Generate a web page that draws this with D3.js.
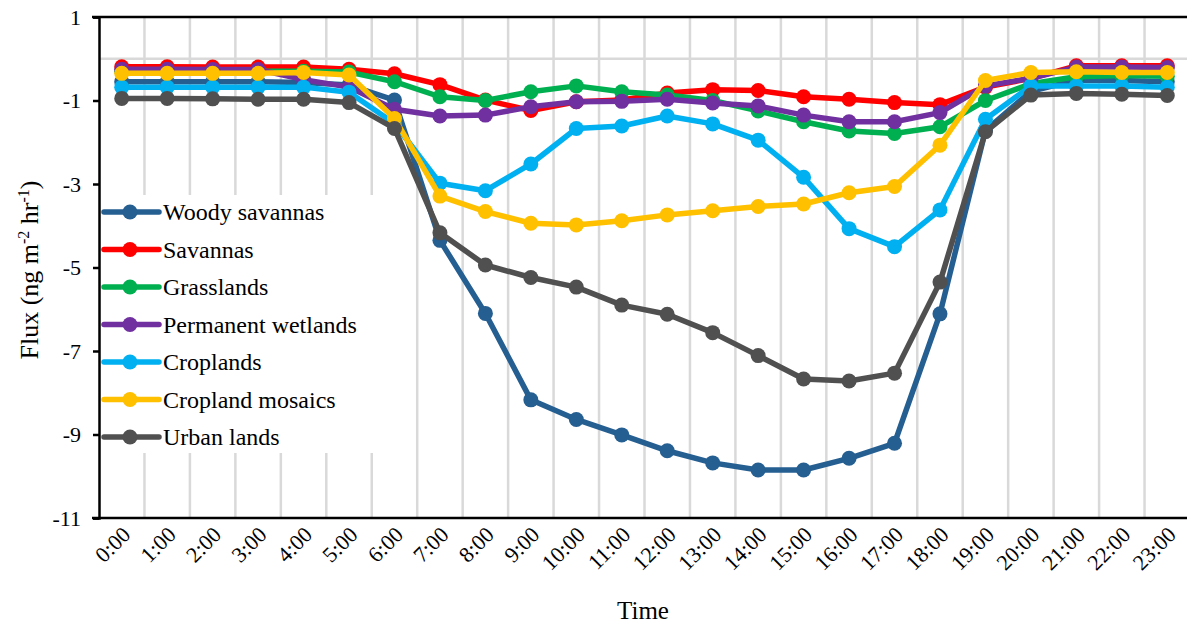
<!DOCTYPE html>
<html>
<head>
<meta charset="utf-8">
<script src="https://cdn.jsdelivr.net/npm/d3@7"></script>
<style>
  html, body { margin: 0; padding: 0; background: #fff; }
  svg { display: block; }
  svg text { font-family: "Liberation Serif", "Times New Roman", serif; fill: #000; }
</style>
</head>
<body>
<svg id="chart" width="1187" height="628"></svg>
<script>
// Hourly flux by land cover type (ng m-2 hr-1)
const hours = ["0:00","1:00","2:00","3:00","4:00","5:00","6:00","7:00","8:00","9:00","10:00","11:00",
               "12:00","13:00","14:00","15:00","16:00","17:00","18:00","19:00","20:00","21:00","22:00","23:00"];

const woodySavannas     = [-0.55,-0.55,-0.55,-0.55,-0.57,-0.63,-0.99,-4.35,-6.1,-8.17,-8.64,-9.01,-9.39,-9.68,-9.85,-9.85,-9.57,-9.21,-6.11,-1.72,-0.78,-0.51,-0.52,-0.55];
const savannas          = [-0.19,-0.19,-0.2,-0.2,-0.2,-0.25,-0.36,-0.62,-0.99,-1.24,-1.03,-0.99,-0.82,-0.74,-0.76,-0.91,-0.97,-1.05,-1.1,-0.68,-0.47,-0.17,-0.17,-0.17];
const grasslands        = [-0.3,-0.3,-0.3,-0.3,-0.3,-0.32,-0.55,-0.91,-1.0,-0.79,-0.65,-0.79,-0.87,-1.0,-1.25,-1.51,-1.73,-1.79,-1.63,-1.0,-0.6,-0.43,-0.4,-0.42];
const permanentWetlands = [-0.25,-0.25,-0.26,-0.26,-0.5,-0.68,-1.21,-1.37,-1.35,-1.15,-1.03,-1.02,-0.97,-1.06,-1.13,-1.35,-1.51,-1.51,-1.29,-0.65,-0.47,-0.2,-0.2,-0.21];
const croplands         = [-0.68,-0.68,-0.68,-0.68,-0.68,-0.8,-1.55,-2.98,-3.16,-2.52,-1.67,-1.61,-1.37,-1.56,-1.95,-2.84,-4.07,-4.5,-3.62,-1.45,-0.65,-0.65,-0.65,-0.68];
const croplandMosaics   = [-0.35,-0.35,-0.35,-0.35,-0.33,-0.39,-1.43,-3.29,-3.66,-3.94,-3.98,-3.88,-3.74,-3.64,-3.54,-3.48,-3.21,-3.06,-2.07,-0.52,-0.33,-0.31,-0.33,-0.33];
const urbanLands        = [-0.95,-0.95,-0.96,-0.97,-0.97,-1.05,-1.67,-4.17,-4.94,-5.24,-5.47,-5.9,-6.12,-6.56,-7.11,-7.67,-7.72,-7.53,-5.35,-1.75,-0.87,-0.83,-0.85,-0.88];

const seriesNames  = ["Woody savannas","Savannas","Grasslands","Permanent wetlands","Croplands","Cropland mosaics","Urban lands"];
const seriesValues = [woodySavannas, savannas, grasslands, permanentWetlands, croplands, croplandMosaics, urbanLands];
const seriesColors = ["#255e91","#ff0000","#00b050","#7030a0","#00b0f0","#ffc000","#505050"];

const yTicks = [1,-1,-3,-5,-7,-9,-11];

const SERIF = "Liberation Serif, Times New Roman, serif";
const svg = d3.select("#chart");

const x = d3.scaleBand().domain(hours).range([99, 1190]).paddingInner(0).paddingOuter(0);
const y = d3.scaleLinear().domain([-11, 1]).range([518, 17]);
const cx = h => x(h) + x.bandwidth() / 2;

// vertical gridlines on category boundaries
svg.append("g")
  .selectAll("line")
  .data(hours.slice(1))
  .join("line")
  .attr("x1", d => x(d)).attr("x2", d => x(d))
  .attr("y1", y(1)).attr("y2", y(-11))
  .attr("stroke", "#d9d9d9").attr("stroke-width", 2.5);

// zero line
svg.append("line")
  .attr("x1", x(hours[0])).attr("x2", 1187)
  .attr("y1", y(0)).attr("y2", y(0))
  .attr("stroke", "#d9d9d9").attr("stroke-width", 2.5);

// top border
svg.append("line")
  .attr("x1", 92).attr("x2", 1187)
  .attr("y1", y(1)).attr("y2", y(1))
  .attr("stroke", "#000").attr("stroke-width", 2.5);

// y axis
const yAxis = svg.append("g")
  .attr("transform", `translate(${x(hours[0])},0)`)
  .call(d3.axisLeft(y).tickValues(yTicks).tickSize(6).tickPadding(12).tickFormat(d => String(d)));
yAxis.select(".domain").attr("stroke", "#000").attr("stroke-width", 2.5);
yAxis.selectAll(".tick line").attr("stroke", "#000").attr("stroke-width", 2.5);
yAxis.selectAll(".tick text").attr("font-size", 22).attr("font-family", SERIF).attr("fill", "#000");

// x axis
const xAxis = svg.append("g")
  .attr("transform", `translate(0,${y(-11)})`)
  .call(d3.axisBottom(x).tickSize(0).tickPadding(0));
xAxis.select(".domain").remove();
svg.append("line")
  .attr("x1", 92).attr("x2", 1187)
  .attr("y1", y(-11)).attr("y2", y(-11))
  .attr("stroke", "#000").attr("stroke-width", 2.5);
xAxis.selectAll(".tick text")
  .attr("font-size", 22)
  .attr("font-family", SERIF)
  .attr("fill", "#000")
  .attr("text-anchor", "end")
  .attr("dy", 0)
  .attr("transform", "translate(10,18) rotate(-45)");

// series lines and markers
const line = d3.line().x((d, i) => cx(hours[i])).y(d => y(d));
seriesValues.forEach((vals, k) => {
  const g = svg.append("g");
  g.append("path")
    .attr("d", line(vals))
    .attr("fill", "none")
    .attr("stroke", seriesColors[k])
    .attr("stroke-width", 5.5)
    .attr("stroke-linejoin", "round");
  g.selectAll("circle")
    .data(vals)
    .join("circle")
    .attr("cx", (d, i) => cx(hours[i]))
    .attr("cy", d => y(d))
    .attr("r", 7.5)
    .attr("fill", seriesColors[k]);
});

// legend
const legend = svg.append("g");
legend.append("rect")
  .attr("x", 101).attr("y", 195).attr("width", 298).attr("height", 258)
  .attr("fill", "#fff");
const rowY = d3.scaleLinear().domain([0, 6]).range([212, 437]);
seriesNames.forEach((name, k) => {
  const ry = rowY(k);
  legend.append("line")
    .attr("x1", 104).attr("x2", 159).attr("y1", ry).attr("y2", ry)
    .attr("stroke", seriesColors[k]).attr("stroke-width", 5.5).attr("stroke-linecap", "round");
  legend.append("circle")
    .attr("cx", 130).attr("cy", ry).attr("r", 7.5).attr("fill", seriesColors[k]);
  legend.append("text")
    .attr("x", 163).attr("y", ry + 8)
    .attr("font-family", SERIF)
    .attr("font-size", 24)
    .text(name);
});

// axis titles
svg.append("text")
  .attr("x", x(hours[0]) + (1187 - x(hours[0])) / 2).attr("y", 619)
  .attr("text-anchor", "middle")
  .attr("font-family", SERIF)
  .attr("font-size", 25)
  .text("Time");

const yt = svg.append("text")
  .attr("transform", "translate(38,270) rotate(-90)")
  .attr("text-anchor", "middle")
  .attr("font-family", SERIF)
  .attr("font-size", 26);
yt.append("tspan").text("Flux (ng m");
yt.append("tspan").attr("font-size", 16).attr("dy", -9).text("-2");
yt.append("tspan").attr("dy", 9).text(" hr");
yt.append("tspan").attr("font-size", 16).attr("dy", -9).text("-1");
yt.append("tspan").attr("dy", 9).text(")");
</script>
</body>
</html>
